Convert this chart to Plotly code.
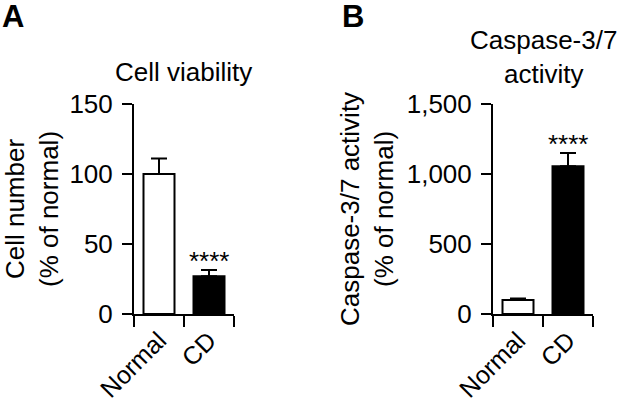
import plotly.graph_objects as go

categories = ["Normal", "CD"]
viability = [100, 27]
viability_err = [11, 4.5]
caspase = [100, 1055]
caspase_err = [10, 95]
viability_ticks = [0, 50, 100, 150]
caspase_ticks = [0, 500, 1000, 1500]

FONT = "Liberation Sans, Arial, sans-serif"
FS = 26
W, H = 619, 405

def px_x(p):
    return p / W

def px_y(p):
    return 1 - p / H

fig = go.Figure()

fig.add_trace(go.Bar(
    x=categories, y=viability, width=0.62,
    marker=dict(color=["white", "black"], line=dict(color="black", width=2)),
    error_y=dict(type="data", array=viability_err, arrayminus=[0, 0], symmetric=False,
                 color="black", thickness=2, width=8),
    xaxis="x", yaxis="y", showlegend=False, hoverinfo="skip",
))
fig.add_trace(go.Bar(
    x=categories, y=caspase, width=0.62,
    marker=dict(color=["white", "black"], line=dict(color="black", width=2)),
    error_y=dict(type="data", array=caspase_err, arrayminus=[0, 0], symmetric=False,
                 color="black", thickness=2, width=8),
    xaxis="x2", yaxis="y2", showlegend=False, hoverinfo="skip",
))

tickfont = dict(family=FONT, size=FS, color="black")
xcommon = dict(type="category", range=[-0.5, 1.5], showline=True, linecolor="black", linewidth=2,
               ticks="outside", tickson="boundaries", ticklen=11, tickwidth=2, tickcolor="black",
               tickangle=-45, tickfont=dict(family=FONT, size=25, color="black"),
               showgrid=False, zeroline=False, automargin=False)
ycommon = dict(showline=True, linecolor="black", linewidth=2, ticks="outside", ticklen=10,
               tickwidth=2, tickcolor="black", tickfont=tickfont, showgrid=False, zeroline=False,
               ticklabelstandoff=4, automargin=False)

fig.update_layout(
    template="none",
    width=W, height=H, margin=dict(l=0, r=0, t=0, b=0, pad=0, autoexpand=False),
    plot_bgcolor="white", paper_bgcolor="white", bargap=0,
    xaxis=dict(domain=[px_x(134), px_x(234)], anchor="y", **xcommon),
    yaxis=dict(domain=[px_y(314), px_y(104)], anchor="x", range=[0, 150],
               tickvals=viability_ticks, **ycommon),
    xaxis2=dict(domain=[px_x(493), px_x(593)], anchor="y2", **xcommon),
    yaxis2=dict(domain=[px_y(314), px_y(104)], anchor="x2", range=[0, 1500],
                tickvals=caspase_ticks, tickformat=",d", separatethousands=True, **ycommon),
)

ann = []
ann.append(dict(text="<b>A</b>", x=px_x(0), y=px_y(-3), xref="paper", yref="paper",
                xanchor="left", yanchor="top", showarrow=False,
                font=dict(family=FONT, size=31, color="black")))
ann.append(dict(text="<b>B</b>", x=px_x(340), y=px_y(-3), xref="paper", yref="paper",
                xanchor="left", yanchor="top", showarrow=False,
                font=dict(family=FONT, size=31, color="black")))
ann.append(dict(text="Cell viability", x=px_x(183), y=px_y(72), xref="paper", yref="paper",
                xanchor="center", yanchor="middle", showarrow=False,
                font=dict(family=FONT, size=FS, color="black")))
ann.append(dict(text="Caspase-3/7<br>activity", x=px_x(543), y=px_y(57), xref="paper", yref="paper",
                xanchor="center", yanchor="middle", showarrow=False,
                font=dict(family=FONT, size=FS, color="black")))
ann.append(dict(text="Cell number<br>(% of normal)", x=px_x(32), y=px_y(209), xref="paper", yref="paper",
                xanchor="center", yanchor="middle", showarrow=False, textangle=-90,
                font=dict(family=FONT, size=FS, color="black")))
ann.append(dict(text="Caspase-3/7 activity<br>(% of normal)", x=px_x(367), y=px_y(209), xref="paper", yref="paper",
                xanchor="center", yanchor="middle", showarrow=False, textangle=-90,
                font=dict(family=FONT, size=FS, color="black")))
ann.append(dict(text="****", x="CD", y=viability[1] + viability_err[1], xref="x", yref="y",
                xanchor="center", yanchor="bottom", yshift=-8, showarrow=False,
                font=dict(family=FONT, size=FS, color="black")))
ann.append(dict(text="****", x="CD", y=caspase[1] + caspase_err[1], xref="x2", yref="y2",
                xanchor="center", yanchor="bottom", yshift=-8, showarrow=False,
                font=dict(family=FONT, size=FS, color="black")))
fig.update_layout(annotations=ann)

fig.write_html("out.html", config={"displayModeBar": False, "staticPlot": True},
               post_script="document.body.style.margin='0';document.body.style.overflow='hidden';")
